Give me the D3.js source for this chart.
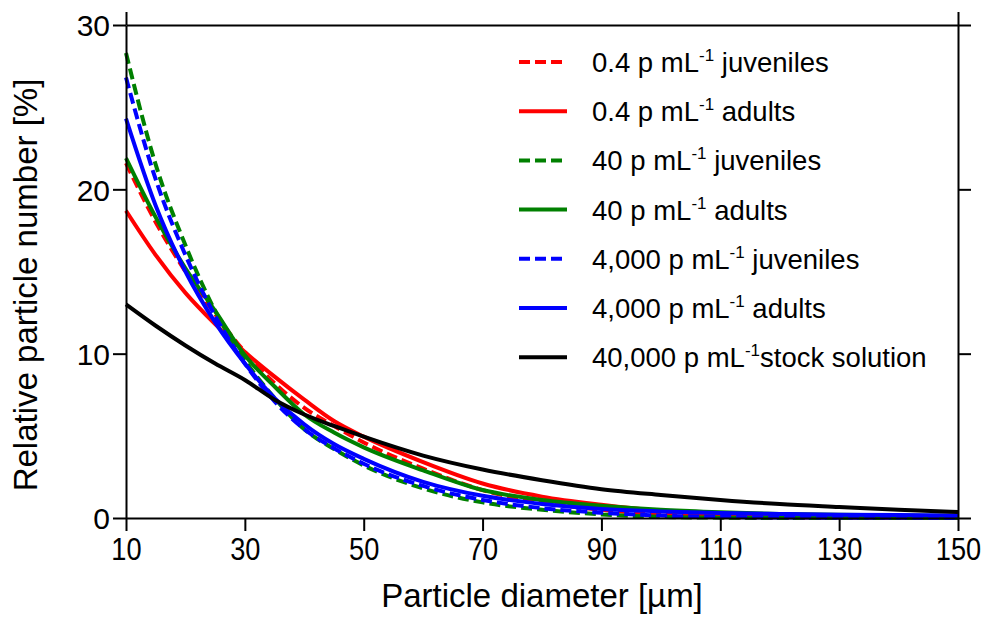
<!DOCTYPE html>
<html>
<head>
<meta charset="utf-8">
<script src="https://cdn.jsdelivr.net/npm/d3@7"></script>
<style>
    body { margin: 0; background: #fff; }
    #chart { width: 987px; height: 617px; }
    text { font-family: "Liberation Sans", Arial, sans-serif; fill: #000; }
</style>
</head>
<body>
<div id="chart"></div>
<script>
const diameters = [10, 15, 20, 25, 30, 35, 40, 45, 50, 60, 70, 80, 90, 100, 110, 120, 130, 140, 150];

// relative particle number [%] per series
const juveniles04   = [21.6, 18.0, 15.0, 12.4, 10.1, 8.2, 6.7, 5.6, 4.6, 3.0, 1.7, 0.95, 0.5, 0.22, 0.06, 0.01, 0, 0, 0];
const adults04      = [18.7, 16.0, 13.7, 11.8, 10.1, 8.6, 7.2, 5.9, 4.95, 3.4, 2.1, 1.3, 0.8, 0.42, 0.2, 0.08, 0.03, 0.01, 0];
const juveniles40   = [28.3, 21.5, 16.6, 12.6, 9.6, 7.3, 5.4, 4.2, 3.2, 1.8, 0.95, 0.5, 0.22, 0.07, 0.02, 0, 0, 0, 0];
const adults40      = [21.9, 18.3, 15.2, 12.6, 9.9, 8.0, 6.3, 5.2, 4.3, 2.9, 1.7, 1.1, 0.75, 0.5, 0.35, 0.25, 0.2, 0.15, 0.12];
const juveniles4000 = [26.8, 20.6, 16.0, 12.3, 9.4, 7.1, 5.4, 4.25, 3.3, 1.95, 1.1, 0.6, 0.32, 0.15, 0.07, 0.03, 0.02, 0.01, 0];
const adults4000    = [24.3, 19.0, 15.0, 11.9, 9.4, 7.3, 5.7, 4.5, 3.6, 2.2, 1.35, 0.85, 0.55, 0.4, 0.3, 0.25, 0.2, 0.18, 0.15];
const stock40000    = [13.0, 11.7, 10.5, 9.4, 8.4, 7.2, 6.3, 5.6, 4.95, 3.8, 2.95, 2.3, 1.75, 1.4, 1.1, 0.85, 0.67, 0.5, 0.37];

// legend text: concentration part, then what follows the superscript
const legendConc = ["0.4 p mL", "0.4 p mL", "40 p mL", "40 p mL", "4,000 p mL", "4,000 p mL", "40,000 p mL"];
const legendGroup = [" juveniles", " adults", " juveniles", " adults", " juveniles", " adults", "stock solution"];

const xTicks = [10, 30, 50, 70, 90, 110, 130, 150];
const yTicks = [0, 10, 20, 30];

class ParticleChart {
    constructor(parentElement) {
        this.parentElement = parentElement;
        this.initVis();
    }

    initVis() {
        let vis = this;

        vis.margin = {top: 25, right: 29, bottom: 99, left: 126};
        vis.width = 987 - vis.margin.left - vis.margin.right;
        vis.height = 617 - vis.margin.top - vis.margin.bottom;

        vis.svg = d3.select("#" + vis.parentElement).append("svg")
            .attr("width", 987)
            .attr("height", 617)
            .append("g")
            .attr("transform", "translate(" + vis.margin.left + "," + vis.margin.top + ")");

        vis.xScale = d3.scaleLinear().domain([10, 150]).range([0, vis.width]);
        vis.yScale = d3.scaleLinear().domain([0, 30]).range([vis.height, 0]);

        // colour + dash for every series, same order as the legend
        vis.styles = [
            {color: "#ff0000", dash: "11,5"},
            {color: "#ff0000", dash: null},
            {color: "#008000", dash: "11,5"},
            {color: "#008000", dash: null},
            {color: "#0000ff", dash: "11,5"},
            {color: "#0000ff", dash: null},
            {color: "#000000", dash: null}
        ];

        vis.wrangleData();
    }

    wrangleData() {
        let vis = this;
        let all = [juveniles04, adults04, juveniles40, adults40, juveniles4000, adults4000, stock40000];
        vis.displayData = all.map((vals, i) => ({
            conc: legendConc[i],
            group: legendGroup[i],
            style: vis.styles[i],
            points: diameters.map((d, j) => ({x: d, y: vals[j]}))
        }));
        vis.updateVis();
    }

    updateVis() {
        let vis = this;

        vis.line = d3.line()
            .curve(d3.curveMonotoneX)
            .x(d => vis.xScale(d.x))
            .y(d => vis.yScale(d.y));

        vis.svg.selectAll(".series")
            .data(vis.displayData)
            .enter()
            .append("path")
            .attr("class", "series")
            .attr("fill", "none")
            .attr("stroke", d => d.style.color)
            .attr("stroke-width", 4)
            .attr("stroke-dasharray", d => d.style.dash)
            .attr("d", d => vis.line(d.points));

        // axes on all four sides
        let tickLen = 13;
        let bottom = vis.svg.append("g")
            .attr("transform", "translate(0," + vis.height + ")")
            .call(d3.axisBottom(vis.xScale).tickValues(xTicks).tickSize(tickLen).tickSizeOuter(0).tickPadding(6));
        let left = vis.svg.append("g")
            .call(d3.axisLeft(vis.yScale).tickValues(yTicks).tickSize(tickLen).tickSizeOuter(0).tickPadding(3));
        let top = vis.svg.append("g")
            .call(d3.axisTop(vis.xScale).tickValues([10, 150]).tickSize(tickLen).tickSizeOuter(0).tickFormat(""));
        let right = vis.svg.append("g")
            .attr("transform", "translate(" + vis.width + ",0)")
            .call(d3.axisRight(vis.yScale).tickValues(yTicks).tickSize(tickLen).tickSizeOuter(0).tickFormat(""));

        [bottom, left, top, right].forEach(ax => {
            ax.selectAll("path, line").attr("stroke", "#000").attr("stroke-width", 2);
        });
        bottom.selectAll("text")
            .style("font-size", "32px")
            .attr("transform", "scale(0.85,1)");
        left.selectAll("text")
            .style("font-size", "30px")
            .attr("dy", "0.36em");

        // axis titles
        vis.svg.append("text")
            .attr("x", vis.width / 2)
            .attr("y", vis.height + 89)
            .attr("text-anchor", "middle")
            .style("font-size", "33px")
            .text("Particle diameter [µm]");

        vis.svg.append("text")
            .attr("transform", "rotate(-90)")
            .attr("x", -(285 - vis.margin.top))
            .attr("y", 37 - vis.margin.left)
            .attr("text-anchor", "middle")
            .style("font-size", "33px")
            .text("Relative particle number [%]");

        // legend
        let legend = vis.svg.append("g")
            .attr("transform", "translate(" + (519 - vis.margin.left) + "," + (62 - vis.margin.top) + ")");
        let rows = legend.selectAll(".legend-row")
            .data(vis.displayData)
            .enter()
            .append("g")
            .attr("class", "legend-row")
            .attr("transform", (d, i) => "translate(0," + i * 49.2 + ")");

        rows.append("line")
            .attr("x1", 0).attr("x2", 48)
            .attr("stroke", d => d.style.color)
            .attr("stroke-width", 4)
            .attr("stroke-dasharray", d => d.style.dash);

        let label = rows.append("text")
            .attr("x", 73)
            .attr("y", 10)
            .style("font-size", "27.5px");
        label.append("tspan").text(d => d.conc);
        label.append("tspan")
            .attr("dy", -11)
            .style("font-size", "17px")
            .text("-1");
        label.append("tspan")
            .attr("dy", 11)
            .text(d => d.group);
    }
}

new ParticleChart("chart");
</script>
</body>
</html>
